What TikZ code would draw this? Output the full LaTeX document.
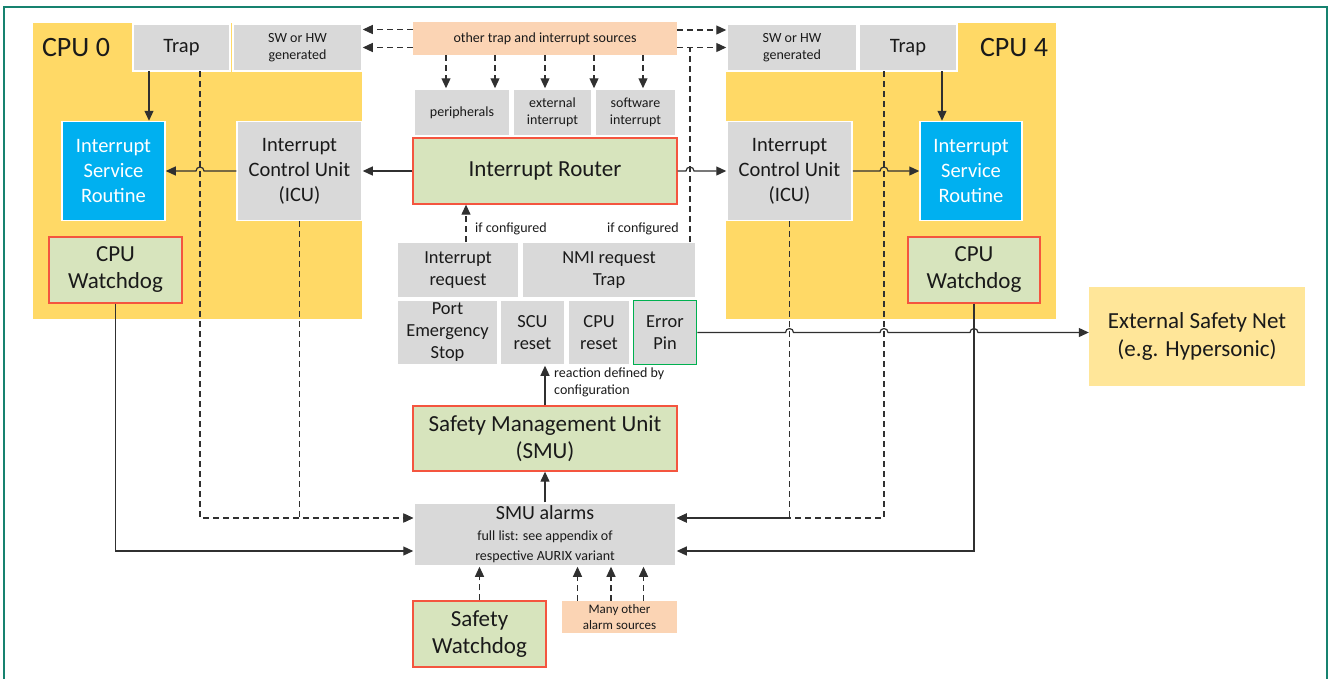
\documentclass[tikz,border=0pt]{standalone}
\usepackage{fontspec}
\setmainfont{Carlito}
\usetikzlibrary{arrows.meta,calc}
\definecolor{grayc}{HTML}{D9D9D9}
\definecolor{cpuy}{HTML}{FFD966}
\definecolor{isrb}{HTML}{00B0F0}
\definecolor{grn}{HTML}{D7E4BD}
\definecolor{redb}{HTML}{F4553F}
\definecolor{peach}{HTML}{FBD4B4}
\definecolor{lyel}{HTML}{FFE699}
\definecolor{framec}{HTML}{16826F}
\definecolor{errg}{HTML}{00B050}
\definecolor{linec}{HTML}{303030}
\definecolor{txt}{HTML}{1A1A1A}
\tikzset{
  bx/.style={inner sep=0pt, align=center, text=txt},
  gbox/.style={bx, fill=grayc, draw=white, line width=1.5pt},
  gnode/.style={bx, fill=grn, draw=redb, line width=1.3pt},
  pbox/.style={bx, fill=peach},
  fbig/.style={font=\fontsize{23}{27}\selectfont},
  fmid/.style={font=\fontsize{20.5}{25}\selectfont},
  fmed/.style={font=\fontsize{18.4}{22}\selectfont},
  fsml/.style={font=\fontsize{14}{17}\selectfont},
  conn/.style={draw=linec, line width=1.2pt},
  arr/.style={conn, -{Triangle[length=10pt,width=9pt]}},
  dline/.style={conn, dash pattern=on 6pt off 4pt},
  darr/.style={dline, -{Triangle[length=10pt,width=9pt]}},
}
\begin{document}
\begin{tikzpicture}[x=1pt,y=-1pt]
\useasboundingbox (0,0) rectangle (1330,678);
% frame
\draw[framec, line width=2.5pt] (4,680) -- (4,7) -- (1327,7) -- (1327,680);
% CPU regions
\fill[cpuy] (33,23) rectangle (362,319);
\fill[cpuy] (726,23) rectangle (1056,319);
\node[bx, font=\fontsize{28}{30}\selectfont] (cpu0) at (76,48) {CPU 0};
\node[bx, font=\fontsize{28}{30}\selectfont] (cpu4) at (1014,48) {CPU 4};
% CPU 0 nodes
\node[gbox, fmid, minimum width=97pt, minimum height=47pt] (trap0) at (181.5,47.5) {Trap};
\node[gbox, fsml, minimum width=129pt, minimum height=47pt] (sw0) at (297.5,47.5) {SW or HW\\generated};
\node[bx, fmid, text=white, fill=isrb, draw=white, line width=1.5pt, minimum width=103pt, minimum height=99pt] (isr0) at (113.5,171) {Interrupt\\Service\\Routine};
\node[gbox, fmid, minimum width=125pt, minimum height=99pt] (icu0) at (299.5,171) {Interrupt\\Control Unit\\(ICU)};
\node[gnode, fbig, minimum width=133pt, minimum height=66pt] (wd0) at (115.5,270) {CPU\\Watchdog};
% CPU 4 nodes
\node[gbox, fsml, minimum width=130pt, minimum height=47pt] (sw4) at (792,47.5) {SW or HW\\generated};
\node[gbox, fmid, minimum width=98pt, minimum height=47pt] (trap4) at (908,47.5) {Trap};
\node[gbox, fmid, minimum width=125pt, minimum height=99pt] (icu4) at (789.5,171) {Interrupt\\Control Unit\\(ICU)};
\node[bx, fmid, text=white, fill=isrb, draw=white, line width=1.5pt, minimum width=102pt, minimum height=99pt] (isr4) at (971,171) {Interrupt\\Service\\Routine};
\node[gnode, fbig, minimum width=132pt, minimum height=66pt] (wd4) at (974,270) {CPU\\Watchdog};
% center column
\node[pbox, fsml, minimum width=264pt, minimum height=33pt] (src) at (545,38.5) {other trap and interrupt sources};
\node[gbox, fsml, minimum width=96pt, minimum height=47pt] (per) at (462,112.5) {peripherals};
\node[gbox, fsml, minimum width=79pt, minimum height=47pt] (ext) at (552.5,112.5) {external\\interrupt};
\node[gbox, fsml, minimum width=81pt, minimum height=47pt] (swi) at (635.5,112.5) {software\\interrupt};
\node[gnode, fbig, minimum width=264pt, minimum height=66pt] (ir) at (545,171) {Interrupt Router};
\node[gbox, fmed, minimum width=122pt, minimum height=56pt] (irq) at (458,270) {Interrupt\\request};
\node[gbox, fmed, minimum width=174pt, minimum height=56pt] (nmi) at (609,270) {NMI request\\Trap};
\node[gbox, fmed, minimum width=101pt, minimum height=65pt] (pes) at (447.5,332.5) {Port\\Emergency\\Stop};
\node[gbox, fmed, minimum width=65pt, minimum height=65pt] (scu) at (532.5,332.5) {SCU\\reset};
\node[gbox, fmed, minimum width=62pt, minimum height=65pt] (cpur) at (599,332.5) {CPU\\reset};
\node[bx, fmed, fill=grayc, draw=errg, line width=1.8pt, minimum width=63pt, minimum height=64pt] (err) at (665,332.5) {Error\\Pin};
\node[gnode, fbig, minimum width=264pt, minimum height=65pt] (smu) at (545,438.5) {Safety Management Unit\\(SMU)};
\node[gbox, font=\fontsize{14}{20.5}\selectfont, minimum width=262pt, minimum height=63pt] (alarms) at (545,534.5) {{\fontsize{20}{20.5}\selectfont SMU alarms}\\full list: see appendix of\\respective AURIX variant};
\node[gnode, fbig, minimum width=133pt, minimum height=66pt] (swd) at (479.5,634) {Safety\\Watchdog};
\node[pbox, font=\fontsize{13}{16}\selectfont, minimum width=115pt, minimum height=32pt] (many) at (619.5,617) {Many other\\alarm sources};
\node[bx, fbig, fill=lyel, minimum width=216pt, minimum height=99pt, font=\fontsize{23}{28}\selectfont] (esn) at (1197,336.5) {External Safety Net\\(e.g. Hypersonic)};
% labels
\node[bx, fsml, anchor=west] (if1) at (475,229) {if configured};
\node[bx, fsml, anchor=west] (if2) at (607,229) {if configured};
\node[bx, fsml, anchor=north west, align=left] (react) at (554,368) {reaction defined by\\configuration};
% helper coordinates
\coordinate (t0s) at (149,71);
\coordinate (t0d) at (200,71);
\coordinate (t4s) at (942,71);
\coordinate (t4d) at (884,71);
\coordinate (nmiup) at (690,242);
\coordinate (irqup) at (466,242);
% source arrows
\draw[darr] ([yshift=9pt]src.west) -- ($(src.west -| sw0.east)+(0,9pt)$);
\draw[darr] (src.west |- sw0.east) -- (sw0.east);
\draw[darr] ([yshift=8.5pt]src.east) -- ($(src.east -| sw4.west)+(0,8.5pt)$);
\draw[darr] (src.east |- sw4.west) -- (sw4.west);
\draw[dline] (nmiup) -- (nmiup |- sw4.west);
\foreach \dx in {-99,-50,0,49,98}{
  \draw[darr] ([xshift=\dx pt]src.south) -- ($(src.south |- per.north)+(\dx pt,0)$);
}
% CPU 0 connectors
\draw[arr] (t0s) -- (t0s |- isr0.north);
\draw[arr] (ir.west) -- (icu0.east);
\draw[arr] (icu0.west) -- ($(icu0.west -| t0d)+(4pt,0)$) arc[start angle=0,end angle=180,radius=4pt] -- (isr0.east);
\draw[darr] (t0d) |- ([yshift=16.5pt]alarms.west);
\draw[darr] (icu0.south) |- ([yshift=16.5pt]alarms.west);
\draw[arr] (wd0.south) |- ([yshift=-16.5pt]alarms.west);
% CPU 4 connectors
\draw[arr] (t4s) -- (t4s |- isr4.north);
\draw[arr] (ir.east) -- ($(ir.east -| nmiup)+(-4pt,0)$) arc[start angle=180,end angle=0,radius=4pt] -- (icu4.west);
\draw[arr] (icu4.east) -- ($(icu4.east -| t4d)+(-4pt,0)$) arc[start angle=180,end angle=0,radius=4pt] -- (isr4.west);
\draw[darr] (t4d) |- ([yshift=16.5pt]alarms.east);
\draw[darr] (icu4.south) |- ([yshift=16.5pt]alarms.east);
\draw[arr] (wd4.south) |- ([yshift=-16.5pt]alarms.east);
% error pin to external safety net
\draw[arr] (err.east) -- ($(err.east -| icu4.south)+(-4pt,0)$) arc[start angle=180,end angle=0,radius=4pt]
  -- ($(err.east -| t4d)+(-4pt,0)$) arc[start angle=180,end angle=0,radius=4pt]
  -- ($(err.east -| wd4.south)+(-4pt,0)$) arc[start angle=180,end angle=0,radius=4pt]
  -- (err.east -| esn.west);
% center connectors
\draw[darr] (irqup) -- (irqup |- ir.south);
\draw[arr] (smu.north) -- (smu.north |- scu.south);
\draw[arr] (alarms.north) -- (smu.south);
\draw[darr] (swd.north) -- (swd.north |- alarms.south);
\foreach \dx in {-42,-8.5,24}{
  \draw[darr] ([xshift=\dx pt]many.north) -- ($(many.north |- alarms.south)+(\dx pt,0)$);
}
\end{tikzpicture}
\end{document}
